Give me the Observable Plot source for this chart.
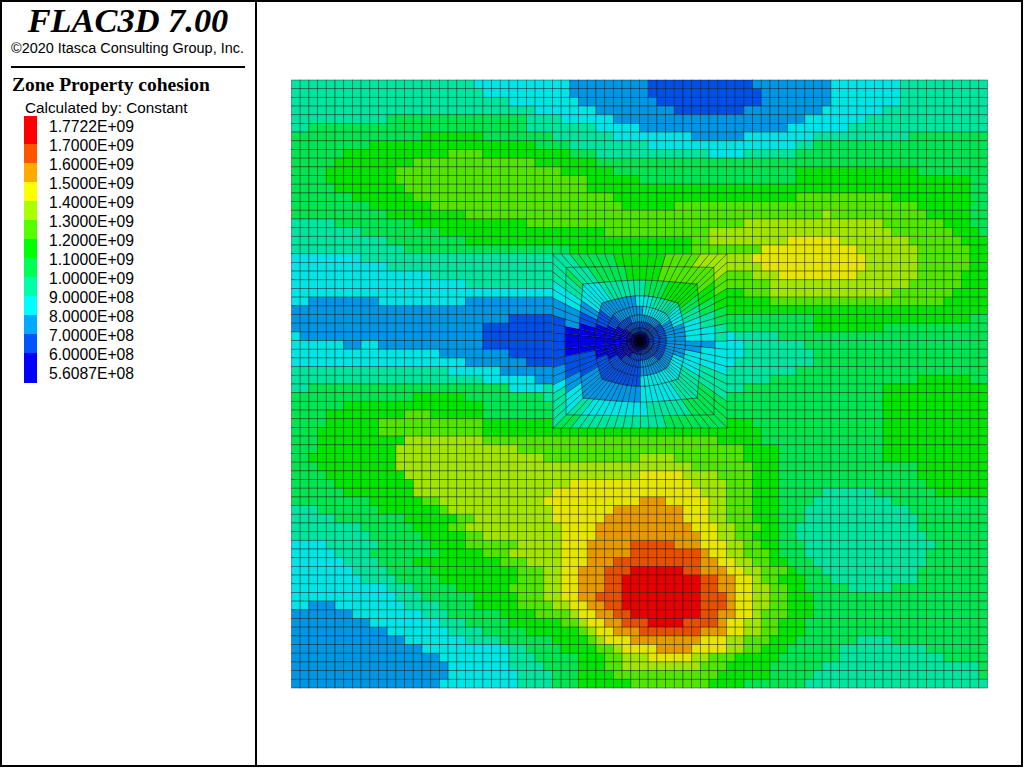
<!DOCTYPE html>
<html><head><meta charset="utf-8">
<script src="https://cdn.jsdelivr.net/npm/d3@7"></script>
<script src="https://cdn.jsdelivr.net/npm/@observablehq/plot@0.6"></script>
<style>
html,body{margin:0;padding:0;background:#fff}
#page{position:relative;width:1024px;height:768px;overflow:hidden;background:#fff}
#page>*{position:absolute}
.t{white-space:nowrap;color:#000}
svg{background:transparent!important}
</style></head><body><div id="page"></div>
<script>
// class index: 0 = lowest cohesion band ... C = highest band
const classes = ["0","1","2","3","4","5","6","7","8","9","A","B","C"];
const chartColors = ["#0000e0","#0050e6","#0096e6","#00e6e6","#00e6a0","#00e650","#00e600","#50e600","#a0e600","#e6e600","#e69a00","#e65000","#e60000"];
const legendColors = ["#ff0000","#ff5500","#ffaa00","#ffff00","#aaff00","#55ff00","#00ff00","#00ff55","#00ffaa","#00ffff","#00aaff","#0055ff","#0000ff"];
const legendLabels = ["1.7722E+09","1.7000E+09","1.6000E+09","1.5000E+09","1.4000E+09","1.3000E+09","1.2000E+09","1.1000E+09","1.0000E+09","9.0000E+08","8.0000E+08","7.0000E+08","6.0000E+08","5.6087E+08"];
const legendEdges = [116,144,163,182,201,220,239,258,277,296,315,334,353,383];

// each row: class:endColumn runs, "." = refined mesh area
const rows = [
"4:21 3:32 2:41 1:53 2:62 3:70 4:80",
"4:22 3:32 2:41 1:54 2:62 3:70 4:80",
"4:25 3:33 2:42 1:54 2:62 3:70 4:80",
"4:28 3:35 2:44 1:52 2:61 3:68 4:80",
"4:11 5:27 4:31 3:37 2:59 3:66 4:80",
"4:2 5:27 4:35 3:40 2:57 3:64 4:80",
"5:15 6:22 5:30 4:37 3:46 2:52 3:60 4:71 5:80",
"5:9 6:28 5:32 4:41 3:58 4:60 5:80",
"5:6 6:18 7:22 6:32 5:35 4:48 3:52 4:58 5:80",
"5:5 6:14 7:28 6:35 5:80",
"5:4 6:12 7:31 6:37 5:58 6:72 5:80",
"5:4 6:12 7:34 6:40 5:58 6:78 5:80",
"5:5 6:13 7:34 6:78 5:80",
"5:7 6:14 7:37 6:58 7:69 6:78 5:80",
"5:9 6:16 7:38 6:44 7:72 6:78 5:80",
"5:11 6:20 7:61 8:62 7:73 6:78 5:80",
"4:5 5:14 6:27 7:52 8:68 7:75 6:78 5:80",
"4:8 5:17 6:36 7:48 8:69 7:76 6:79 5:80",
"4:11 5:20 6:46 7:48 8:57 9:63 8:71 7:77 6:80",
"4:13 5:32 6:46 7:54 9:65 8:72 7:78 6:80",
"3:8 4:30 .:50 8:53 9:66 8:72 7:78 6:80",
"3:11 4:30 .:50 8:54 9:66 8:72 7:78 6:80",
"3:16 4:30 .:50 7:53 8:56 9:65 8:72 7:77 6:80",
"3:20 4:30 .:50 7:55 8:71 7:77 6:80",
"3:30 .:50 6:52 7:55 8:69 7:76 6:80",
"3:2 2:10 3:20 2:30 .:50 6:55 7:75 6:80",
"2:30 .:50 6:80",
"2:25 1:30 .:50 5:60 6:78 5:80",
"2:22 1:30 .:50 5:60 6:68 5:80",
"3:1 2:22 1:30 .:50 3:51 4:56 5:80",
"3:6 2:8 3:10 2:22 1:30 .:50 3:52 4:59 5:80",
"3:17 2:25 1:30 .:50 3:52 4:60 5:80",
"3:20 2:27 1:30 .:50 3:51 4:60 5:80",
"4:18 3:24 2:30 .:50 4:58 5:80",
"4:22 3:28 2:30 .:50 4:55 5:72 6:78 5:80",
"4:2 5:25 3:29 4:30 .:50 4:52 5:68 6:80",
"5:14 6:20 5:29 4:30 .:50 5:68 6:80",
"5:6 6:22 5:30 .:50 5:68 6:80",
"5:4 6:13 7:16 6:22 5:30 .:50 5:68 6:80",
"5:4 6:10 7:22 6:30 .:50 6:53 5:68 6:80",
"5:3 6:10 7:22 6:54 5:68 6:80",
"5:3 6:13 8:22 7:49 6:54 5:68 6:80",
"5:3 6:12 8:26 7:52 6:56 5:68 6:80",
"5:2 6:12 8:29 7:40 8:44 7:52 6:56 5:68 6:80",
"5:3 6:12 8:46 7:53 6:56 5:72 6:80",
"5:4 6:13 8:40 9:45 8:49 7:53 6:56 5:72 6:80",
"5:5 6:14 8:32 9:46 8:50 7:53 6:56 5:73 6:80",
"5:6 6:14 8:30 9:47 8:50 7:53 6:56 5:61 4:67 5:74 6:80",
"5:9 6:15 7:17 8:29 9:40 A:43 9:48 8:50 7:53 6:56 5:60 4:69 5:80",
"4:3 5:10 6:17 7:18 8:30 9:37 A:45 9:48 8:50 7:53 6:56 5:59 4:71 5:80",
"4:5 5:13 6:19 7:21 8:30 9:36 A:45 9:48 8:50 7:53 6:56 5:59 4:72 5:80",
"4:8 5:14 6:18 7:20 8:31 9:35 A:46 9:49 8:51 7:54 6:56 5:58 4:72 5:80",
"4:9 5:15 6:20 7:22 8:31 9:35 A:47 9:49 8:51 7:53 6:56 5:58 4:73 5:80",
"3:4 4:10 5:16 6:20 7:26 8:31 9:34 A:39 B:44 A:47 9:50 8:52 7:54 6:56 5:59 4:74 5:80",
"3:5 4:9 5:17 6:22 7:25 8:31 9:34 A:39 B:47 A:48 9:50 8:52 7:55 6:56 5:59 4:73 5:80",
"3:6 4:10 5:14 6:24 7:27 8:31 9:34 A:37 B:47 A:49 9:51 8:53 7:55 6:57 5:60 4:73 5:80",
"3:7 4:11 5:16 6:26 7:29 8:31 9:33 A:36 B:39 C:45 B:47 A:50 9:52 8:54 7:57 6:58 5:61 4:72 5:80",
"3:8 4:12 5:17 6:26 7:29 8:31 9:33 A:36 B:38 C:47 B:49 A:51 9:53 8:54 7:56 6:59 5:62 4:72 5:80",
"3:11 4:14 5:19 6:25 7:29 8:31 9:33 A:36 B:38 C:47 B:49 A:51 9:53 8:55 7:57 6:59 5:64 4:69 5:80",
"3:12 4:15 5:21 6:26 7:29 8:31 9:33 A:35 B:38 C:47 B:50 A:51 9:53 8:55 7:57 6:60 5:80",
"3:2 2:5 3:13 4:17 5:21 6:26 7:30 8:32 9:34 A:36 B:38 C:47 B:50 A:51 9:53 8:55 7:57 6:60 5:80",
"2:7 3:15 4:18 5:24 6:28 7:32 8:33 9:35 A:37 B:39 C:47 B:49 A:51 9:53 8:54 7:57 6:60 5:80",
"2:9 3:17 4:20 5:25 6:31 7:33 8:34 9:36 A:38 B:41 C:45 B:49 A:50 9:52 8:54 7:56 6:59 5:80",
"2:11 3:18 4:22 5:27 6:33 7:34 8:35 9:37 A:40 B:47 A:50 9:52 8:54 7:56 6:59 5:80",
"2:13 3:20 4:24 5:30 6:34 7:35 8:36 9:39 A:47 9:50 8:52 7:55 6:58 5:65 4:69 5:80",
"2:15 3:25 4:27 5:31 6:35 7:37 8:38 9:42 A:46 9:50 8:52 7:54 6:57 5:63 4:73 5:80",
"2:17 3:25 4:28 5:33 6:36 7:38 8:41 9:46 8:48 7:51 6:56 5:63 4:75 5:80",
"2:18 3:25 4:29 5:33 6:36 7:38 8:47 7:50 6:55 5:61 4:79 5:80",
"2:18 3:26 4:30 5:33 6:37 7:49 6:55 5:60 4:79 5:80",
"2:17 3:26 4:30 5:33 6:39 7:48 6:52 5:59 4:80"
];

// refined mesh around the opening: sectors run clockwise from east, 80 around
const ringRadii = [10,8.6,7,5.2,4,3,2.2,1.5,1,0.7,0.45,0.25,0.1];
const ringSquareness = [1,0.95,0.78,0.45,0.2,0.05,0,0,0,0,0,0,0];
const ringBands = [
"3:4 4:7 5:17 4:28 5:30 4:34 3:35 2:37 1:43 2:45 3:47 4:52 5:57 6:63 7:67 8:72 7:74 6:76 5:78 4:80",
"2:1 3:4 4:7 5:13 4:19 3:28 4:30 3:33 2:35 1:38 0:42 2:45 3:47 4:49 5:50 4:53 5:58 6:63 7:72 6:74 5:76 4:78 3:80",
"2:2 3:6 4:13 3:20 2:30 2:34 1:38 0:43 1:45 2:47 3:50 3:53 4:61 5:65 6:72 5:74 4:76 3:80",
"2:4 3:20 1:36 0:44 1:48 2:59 3:63 4:71 3:76 2:80",
"2:20 1:34 0:45 1:50 2:61 3:73 2:80",
"1:11 2:20 1:30 0:47 1:56 2:71 1:80",
"1:26 0:49 1:80",
"1:21 0:50 1:80",
"0:80","0:80","0:80","0:80"
];

// ---- expand the tables into cells and polygons
const cells = [];
rows.forEach((row,r)=>{
  let start = 0;
  row.split(" ").forEach(run=>{
    const [c,e] = run.split(":");
    const end = +e;
    if (c !== ".") for (let col=start; col<end; col++) cells.push({x1:col,x2:col+1,y1:r,y2:r+1,c});
    start = end;
  });
});
const expandBands = s => { const out=[]; let st=0; s.split(" ").forEach(run=>{const [c,e]=run.split(":"); for(let i=st;i<+e;i++) out[i]=c; st=+e;}); return out; };
const cx = 40, cy = 30, nSectors = 80;
const squarePoint = s => {
  s = ((s%nSectors)+nSectors)%nSectors;
  if (s<=10) return [1, s/10];
  if (s<=30) return [1-(s-10)/10, 1];
  if (s<=50) return [-1, 1-(s-30)/10];
  if (s<=70) return [-1+(s-50)/10, -1];
  return [1, -1+(s-70)/10];
};
const node = (s,k) => {
  const [px,py] = squarePoint(s), h = Math.hypot(px,py), w = ringSquareness[k], r = ringRadii[k];
  return [cx + r*((1-w)*px/h + w*px), cy + r*((1-w)*py/h + w*py)];
};
const quads = [];
ringBands.forEach((band,k)=>{
  const b = expandBands(band);
  for (let s=0;s<nSectors;s++){
    const id = k+"-"+s;
    [node(s,k),node(s+1,k),node(s+1,k+1),node(s,k+1)].forEach(p=>quads.push({id,x:p[0],y:p[1],c:b[s]}));
  }
});

const chart = Plot.plot({
  width:1024,height:768,margin:0,
  style:{background:"transparent"},
  x:{axis:null,domain:[0,80],range:[291.5,987.5]},
  y:{axis:null,domain:[0,70],range:[80,688]},
  color:{type:"ordinal",domain:classes,range:chartColors},
  marks:[
    Plot.rect(cells,{x1:"x1",x2:"x2",y1:"y1",y2:"y2",fill:"c",inset:0,stroke:"#000",strokeOpacity:0.46,strokeWidth:0.8}),
    Plot.line(quads,{x:"x",y:"y",z:"id",fill:"c",curve:"linear-closed",stroke:"#000",strokeOpacity:0.6,strokeWidth:0.6})
  ]
});
chart.style.left="0";chart.style.top="0";

const legend = Plot.plot({
  width:256,height:400,margin:0,
  style:{background:"transparent"},
  x:{axis:null,domain:[0,256],range:[0,256]},
  y:{axis:null,domain:[0,400],range:[0,400]},
  marks:[
    Plot.rect(legendColors.map((f,i)=>({f,y1:legendEdges[i],y2:legendEdges[i+1]})),{x1:()=>24,x2:()=>37,y1:"y1",y2:"y2",fill:"f",inset:0}),
    Plot.text(legendLabels,{x:()=>48.5,y:(d,i)=>126.5+19*i,text:d=>d,textAnchor:"start",fontFamily:"Liberation Sans",fontSize:15.7,fill:"#000"})
  ]
});
legend.style.left="0";legend.style.top="0";

const page = document.getElementById("page");
page.append(chart,legend);
const add = (css,text)=>{const d=document.createElement("div");d.style.cssText=css;if(text!==undefined){d.textContent=text;d.className="t";}page.appendChild(d);};
add("left:0;top:0;width:1019px;height:763px;border:2px solid #000");
add("left:255px;top:0;width:2px;height:765px;background:#000");
add("left:11px;top:66px;width:234px;height:2px;background:#000");
add("left:0;width:256px;text-align:center;top:1px;font:italic bold 34.4px 'Liberation Serif'","FLAC3D 7.00");
add("left:11px;top:40px;font:14.45px 'Liberation Sans'","©2020 Itasca Consulting Group, Inc.");
add("left:12px;top:74px;font:bold 19.5px 'Liberation Serif'","Zone Property cohesion");
add("left:25px;top:99px;font:15.3px 'Liberation Sans'","Calculated by: Constant");
</script></body></html>
